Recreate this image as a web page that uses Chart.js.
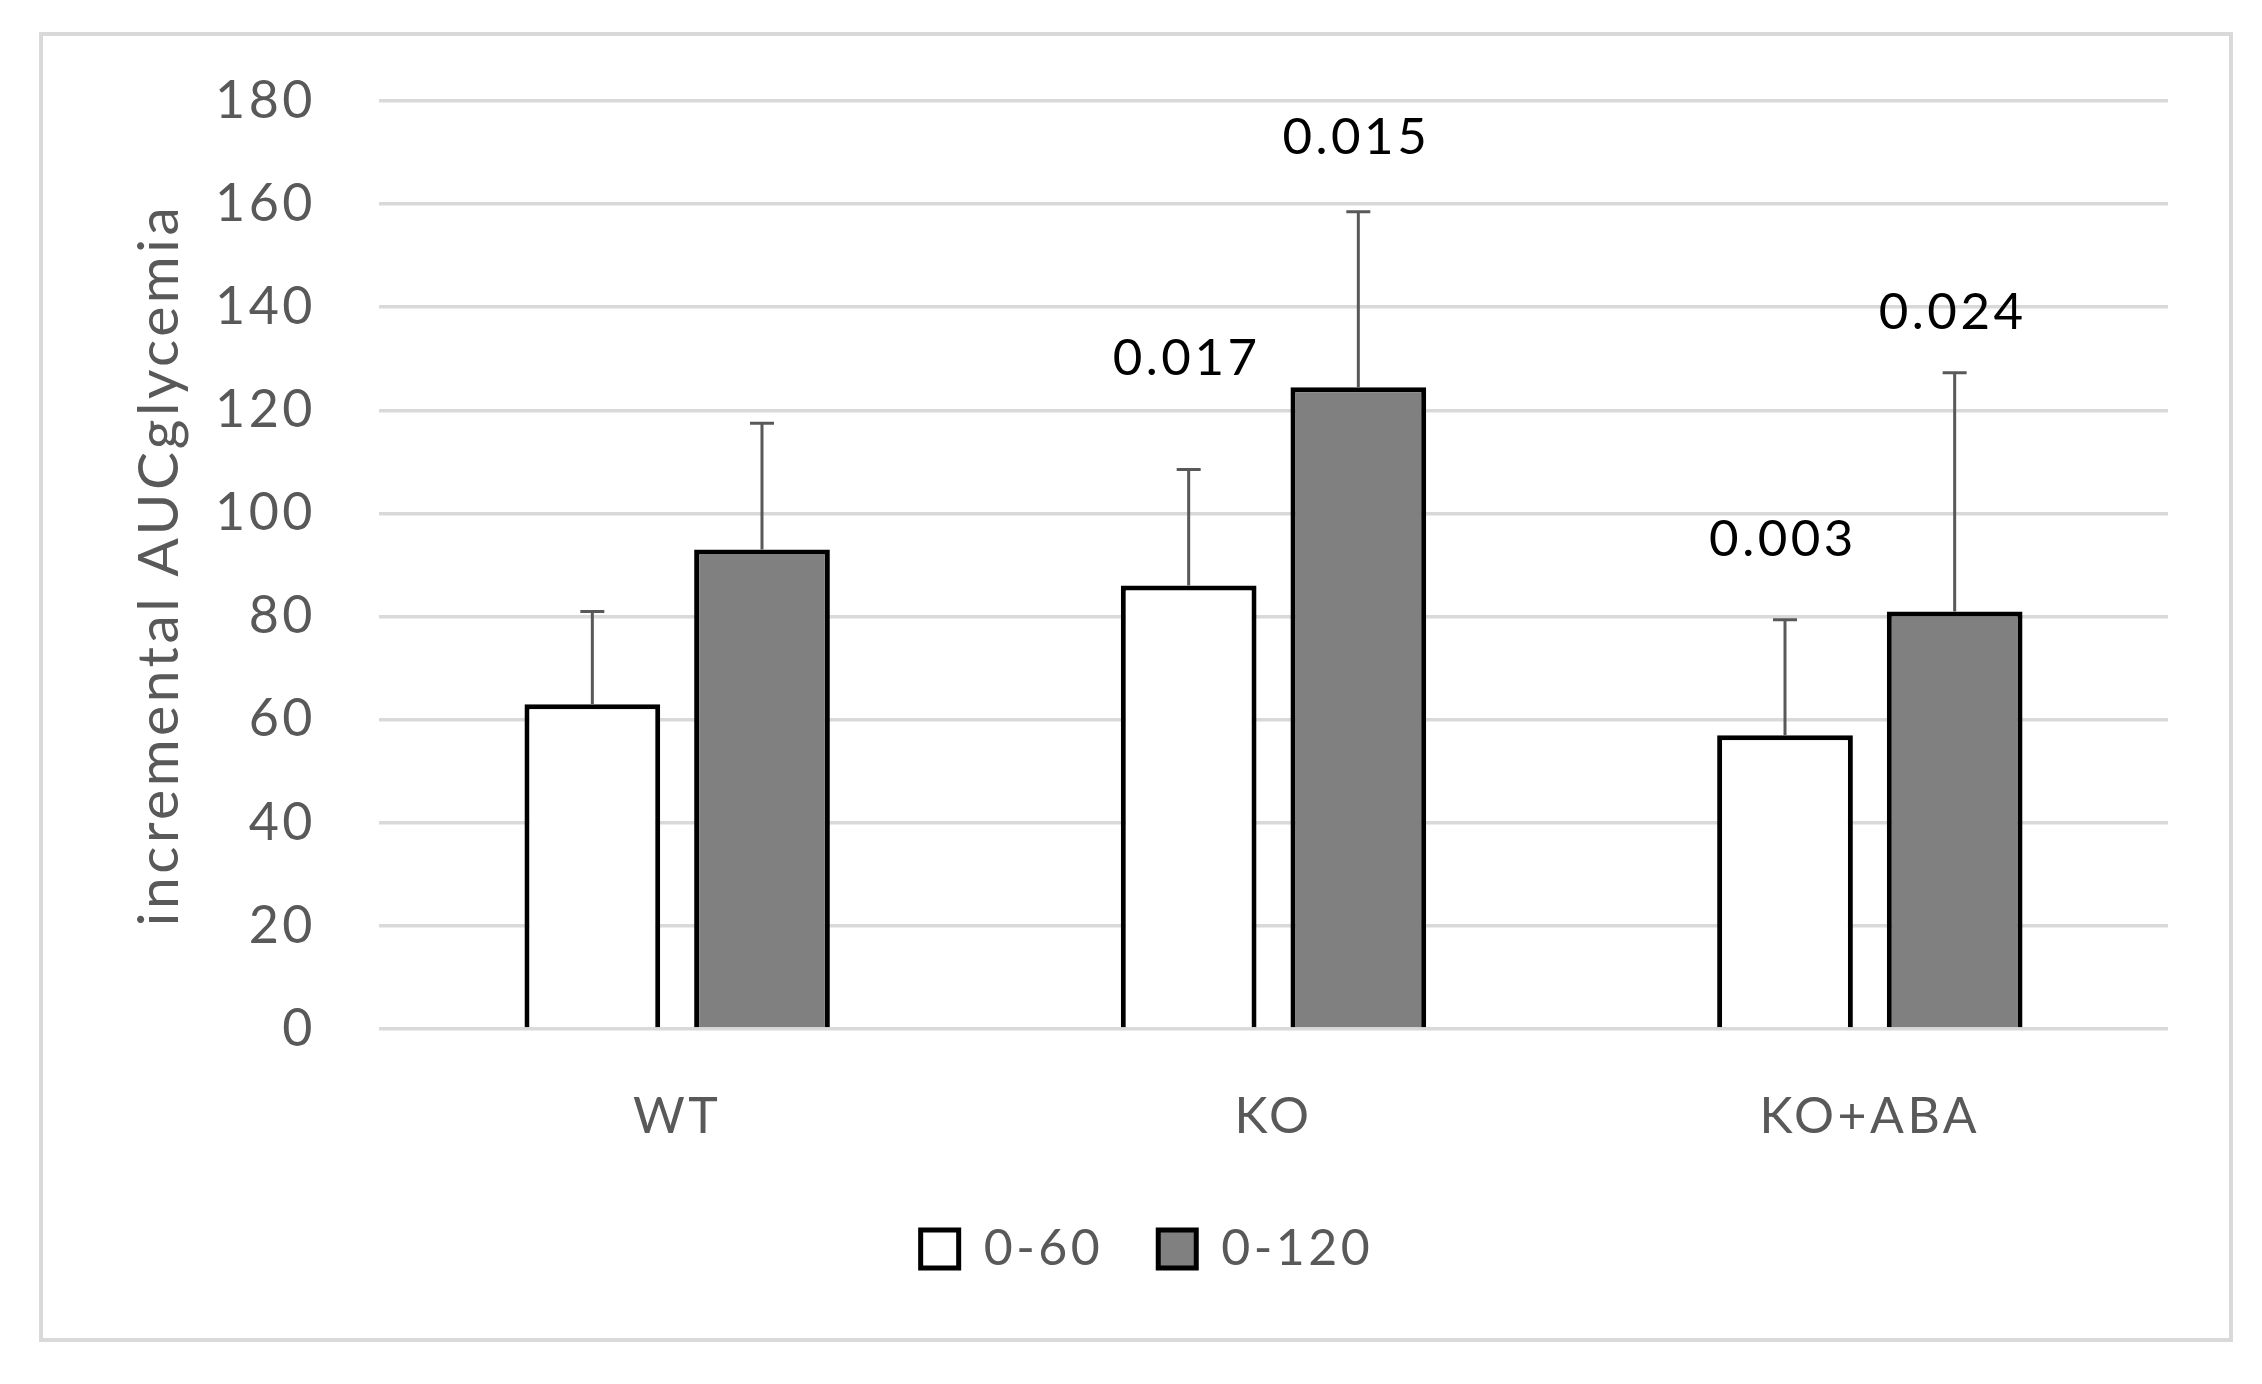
<!DOCTYPE html>
<html lang="en">
<head>
    <meta charset="UTF-8">
    <title>incremental AUC glycemia</title>
    <script src="https://cdn.jsdelivr.net/npm/chart.js"></script>
    <style>
        html, body { margin: 0; padding: 0; background: #fff; }
        body { width: 2262px; height: 1384px; position: relative; overflow: hidden; }
        #frame { position: absolute; left: 39px; top: 32px; width: 2186px; height: 1302px; border: 4px solid #d9d9d9; }
        canvas { display: block; }
    </style>
</head>
<body>
    <div id="frame"><canvas id="aucChart"></canvas></div>

    <script>
        // valores
        const categories = ['WT', 'KO', 'KO+ABA'];
        const auc60 = [63, 86, 57];
        const auc120 = [93, 124.5, 81];
        const sd60 = [18, 22.5, 22.4];
        const sd120 = [24.5, 34, 46.3];
        const p60 = ['', '0.017', '0.003'];
        const p120 = ['', '0.015', '0.024'];
        const p60At = [null, 130, 95];
        const p120At = [null, 173, 139];
        const yTicks = [0, 20, 40, 60, 80, 100, 120, 140, 160, 180];

        const FONT = 'Lato, "Open Sans", sans-serif';
        const GREY_TEXT = '#595959';
        const SPACING = '3.5px';

        // texto um pouco mais espacado, como no Excel
        const spacing = {
            id: 'spacing',
            beforeUpdate(chart) { chart.ctx.letterSpacing = SPACING; },
            beforeDraw(chart) { chart.ctx.letterSpacing = SPACING; }
        };

        // barras de erro e valores de p
        const extras = {
            id: 'extras',
            afterDatasetsDraw(chart) {
                const ctx = chart.ctx;
                const y = chart.scales.y;
                const errs = [sd60, sd120];
                const pv = [p60, p120];
                const pAt = [p60At, p120At];
                ctx.save();
                chart.data.datasets.forEach((ds, di) => {
                    const meta = chart.getDatasetMeta(di);
                    meta.data.forEach((bar, i) => {
                        const top = y.getPixelForValue(ds.data[i]);
                        const cap = y.getPixelForValue(ds.data[i] + errs[di][i]);
                        ctx.strokeStyle = '#595959';
                        ctx.lineWidth = 3;
                        ctx.beginPath();
                        ctx.moveTo(bar.x, top);
                        ctx.lineTo(bar.x, cap);
                        ctx.moveTo(bar.x - 12, cap);
                        ctx.lineTo(bar.x + 12, cap);
                        ctx.stroke();
                        if (pv[di][i]) {
                            ctx.fillStyle = '#000';
                            ctx.font = '51px ' + FONT;
                            ctx.textAlign = 'center';
                            ctx.textBaseline = 'middle';
                            ctx.fillText(pv[di][i], bar.x - 2, y.getPixelForValue(pAt[di][i]));
                        }
                    });
                });
                ctx.restore();
            }
        };

        const ctx = document.getElementById('aucChart').getContext('2d');
        new Chart(ctx, {
            type: 'bar',
            data: {
                labels: categories,
                datasets: [{
                    label: '0-60',
                    data: auc60,
                    backgroundColor: '#ffffff',
                    borderColor: '#000000',
                    borderWidth: 5
                }, {
                    label: '0-120',
                    data: auc120,
                    backgroundColor: '#808080',
                    borderColor: '#000000',
                    borderWidth: 5
                }]
            },
            plugins: [spacing, extras],
            options: {
                responsive: true,
                maintainAspectRatio: false,
                animation: false,
                categoryPercentage: 0.569,
                barPercentage: 0.80,
                layout: { padding: { top: 65, right: 61, bottom: 54, left: 83 } },
                plugins: {
                    tooltip: { enabled: false },
                    legend: {
                        position: 'bottom',
                        labels: {
                            boxWidth: 38,
                            boxHeight: 38,
                            padding: 55,
                            color: GREY_TEXT,
                            font: { family: FONT, size: 50 }
                        }
                    }
                },
                scales: {
                    x: {
                        grid: { display: false },
                        border: { display: false },
                        ticks: {
                            color: GREY_TEXT,
                            padding: 50,
                            font: { family: FONT, size: 50 }
                        },
                        afterFit(scale) { scale.height = 140; }
                    },
                    y: {
                        min: 0,
                        max: 180,
                        afterBuildTicks(scale) { scale.ticks = yTicks.map(v => ({ value: v })); },
                        // marcas invisiveis so para afastar os rotulos
                        grid: { color: '#d9d9d9', lineWidth: 3.5, drawTicks: true, tickLength: 63, tickColor: 'rgba(0,0,0,0)' },
                        border: { display: false },
                        ticks: {
                            color: GREY_TEXT,
                            padding: 0,
                            font: { family: FONT, size: 52 }
                        },
                        title: {
                            display: true,
                            text: 'incremental AUCglycemia',
                            color: GREY_TEXT,
                            padding: { top: 2, bottom: 0 },
                            font: { family: FONT, size: 57, lineHeight: 1.1 }
                        },
                        afterFit(scale) { scale.width = 253; }
                    }
                }
            }
        });
    </script>
</body>
</html>
